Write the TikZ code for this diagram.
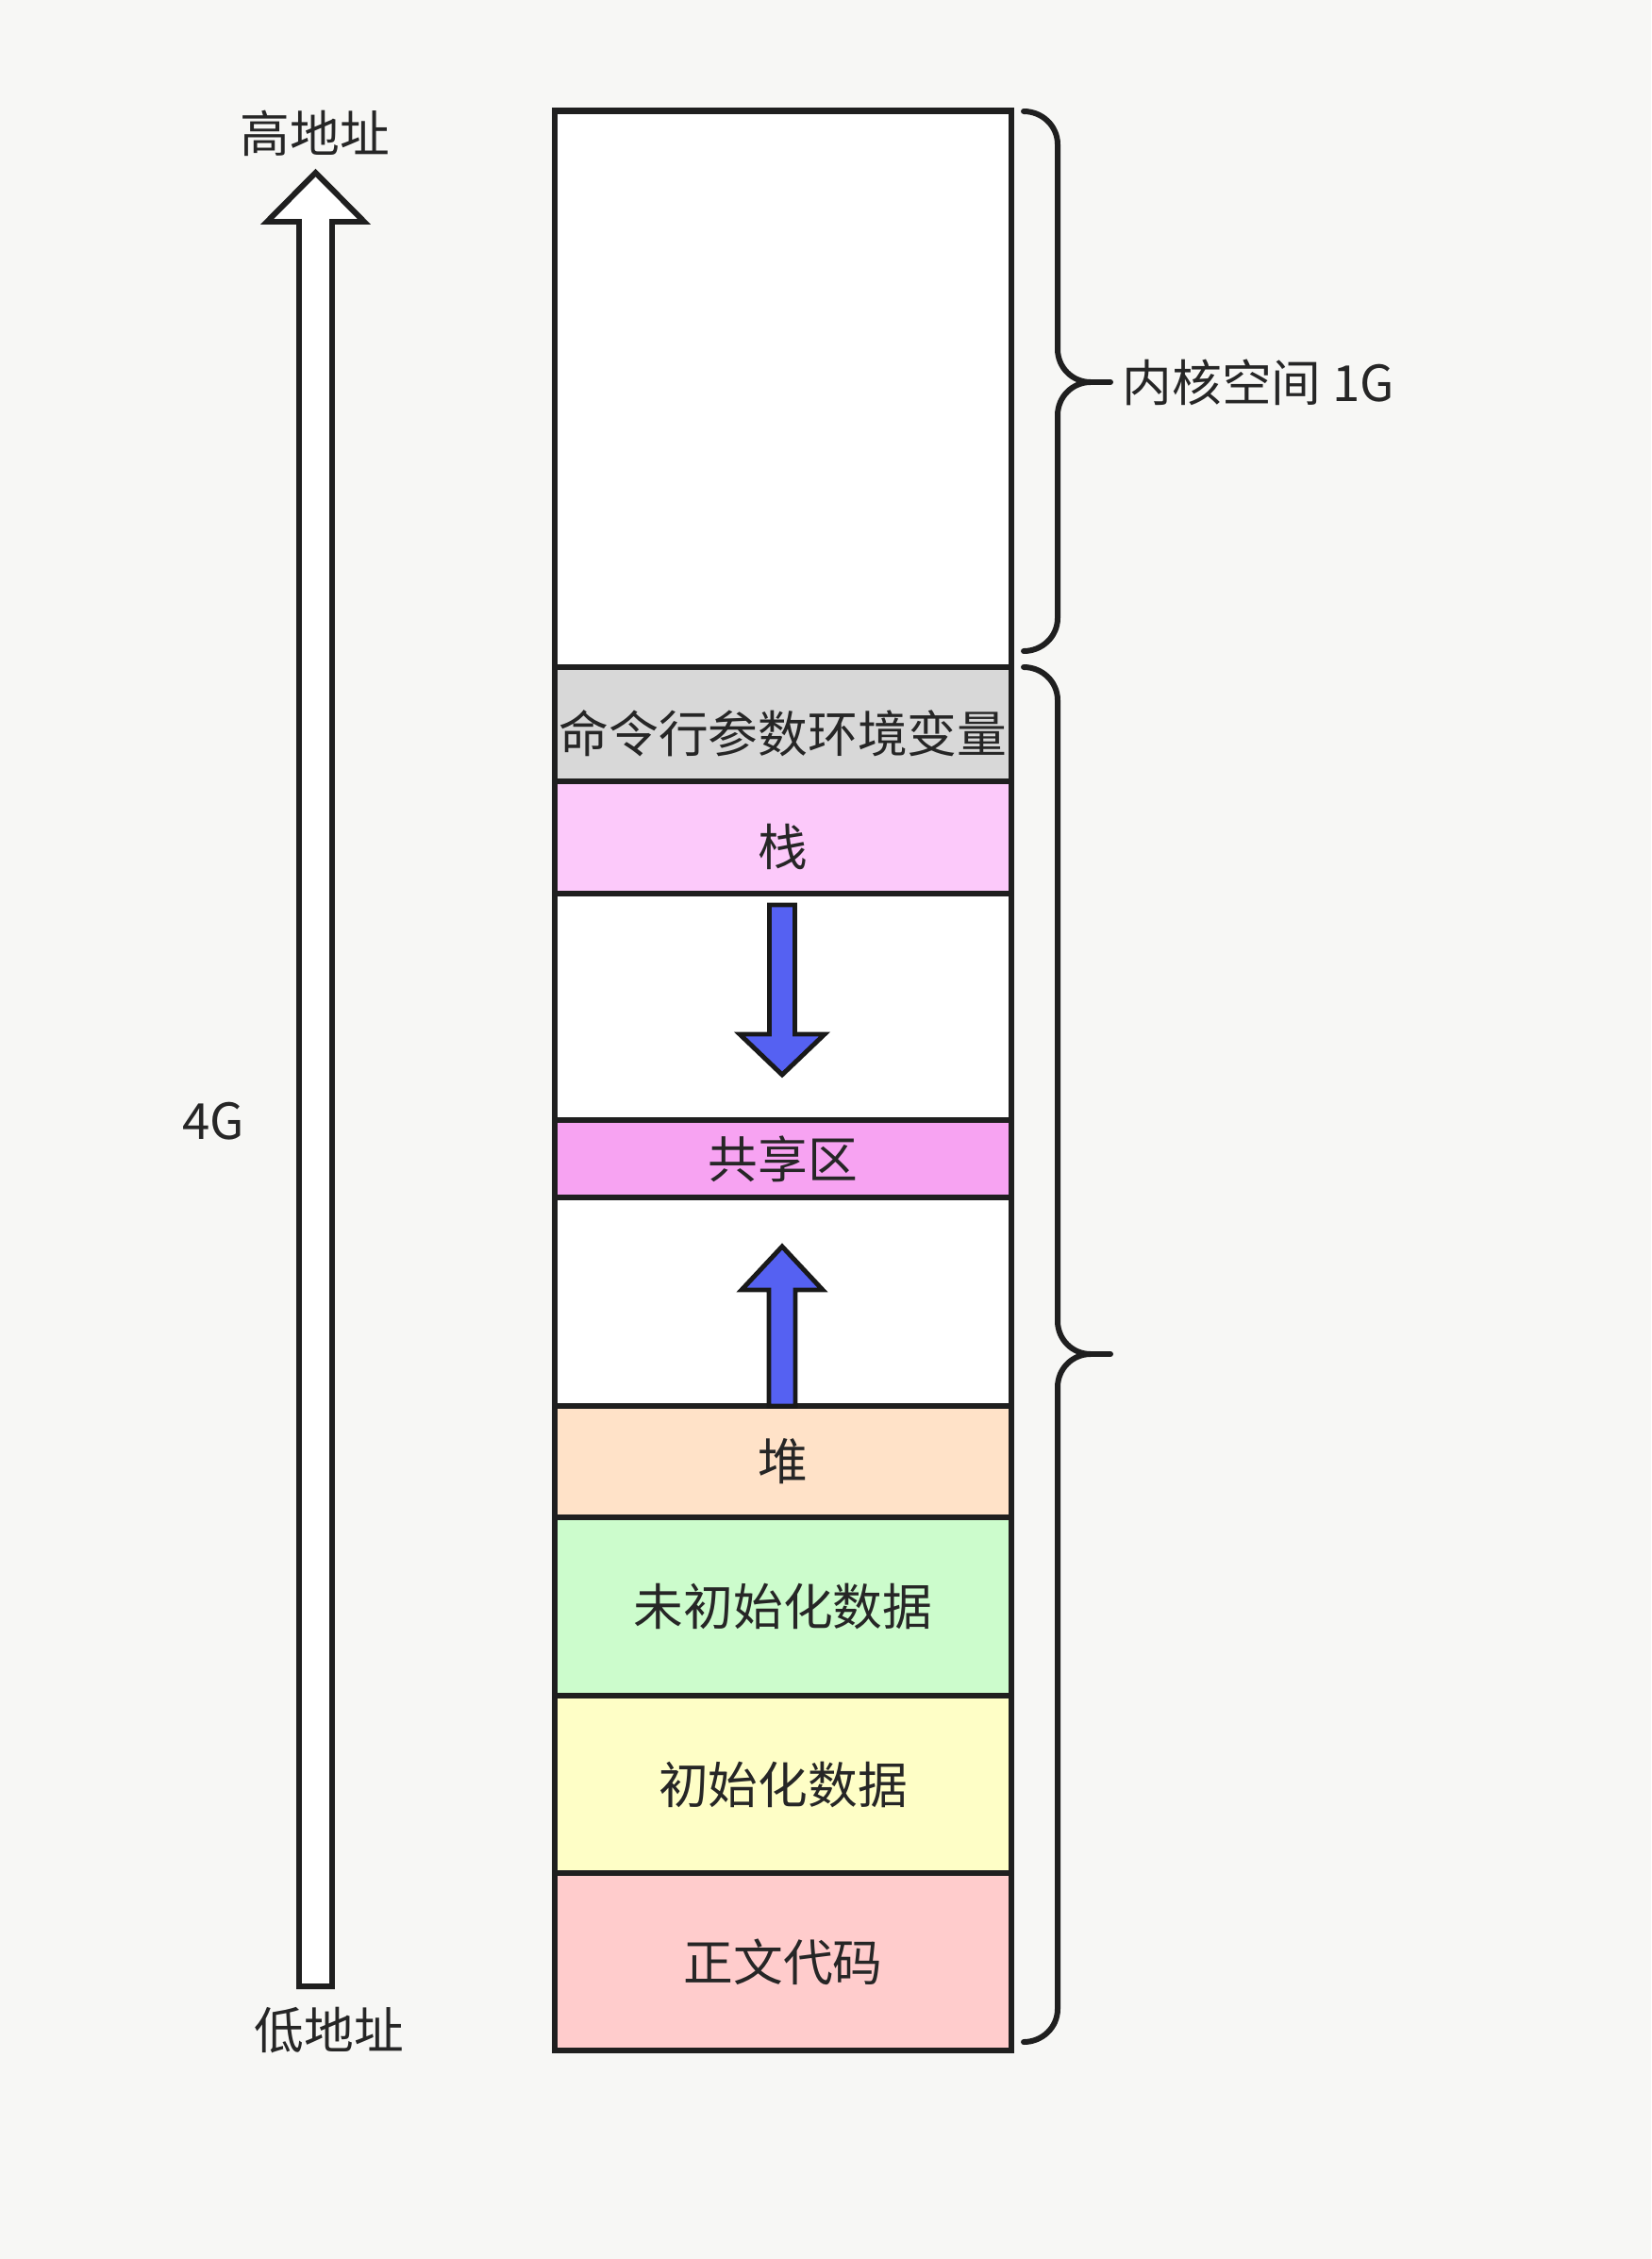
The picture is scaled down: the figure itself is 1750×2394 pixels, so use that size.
\documentclass[tikz,border=0pt]{standalone}
\usepackage{fontspec}
\setmainfont{Noto Sans CJK SC}
\definecolor{bgcol}{RGB}{247,247,245}
\definecolor{argcol}{RGB}{216,216,216}
\definecolor{stackcol}{RGB}{252,201,250}
\definecolor{sharecol}{RGB}{247,163,242}
\definecolor{heapcol}{RGB}{255,226,200}
\definecolor{bsscol}{RGB}{204,252,204}
\definecolor{datacol}{RGB}{254,254,198}
\definecolor{textcol}{RGB}{255,204,204}
\definecolor{growblue}{RGB}{85,97,242}

\begin{document}
\begin{tikzpicture}[x=0.01cm,y=-0.01cm,
  seg/.style={draw=black!88,line width=1.8pt,minimum width=4.84cm,inner sep=0pt,
    outer sep=0pt,font=\fontsize{15}{18}\selectfont,text=black!85},
  lbl/.style={font=\fontsize{15}{18}\selectfont,text=black!85,inner sep=0pt},
  brace/.style={draw=black!88,line width=1.7pt,line cap=round},
  growarrow/.style={draw=black!90,line width=1.4pt,fill=growblue}]
  \useasboundingbox (0,0) rectangle (1750,2394);
  \fill[bgcol] (0,0) rectangle (1750,2394);

  % memory layout
  \node[seg,fill=white,minimum height=5.894cm] (kernel) at (830,412.3) {};
  \node[seg,fill=argcol,minimum height=1.21cm] (args) at (830,767.5) {};
  \node[seg,fill=stackcol,minimum height=1.19cm] (stack) at (830,887.5) {};
  \node[seg,fill=white,minimum height=2.40cm] (gap1) at (830,1067) {};
  \node[seg,fill=sharecol,minimum height=0.82cm] (shared) at (830,1228) {共享区};
  \node[seg,fill=white,minimum height=2.21cm] (gap2) at (830,1379.5) {};
  \node[seg,fill=heapcol,minimum height=1.18cm] (heap) at (830,1549) {堆};
  \node[seg,fill=bsscol,minimum height=1.89cm] (bss) at (830,1702.5) {未初始化数据};
  \node[seg,fill=datacol,minimum height=1.88cm] (data) at (830,1891) {初始化数据};
  \node[seg,fill=textcol,minimum height=1.88cm] (text) at (830,2079) {正文代码};
  \node[lbl] (argstext) at ([yshift=-0.1cm]args.center) {命令行参数环境变量};
  \node[lbl] (stacktext) at ([yshift=-0.1cm]stack.center) {栈};

  % growth directions
  \draw[growarrow] (815.5,959) -- (842.5,959) -- (842.5,1096) -- (874,1096) -- (829,1139)
    -- (784,1096) -- (815.5,1096) -- cycle;
  \draw[growarrow] (815,1490) -- (815,1367) -- (786,1367) -- (829,1321) -- (872,1367)
    -- (843,1367) -- (843,1490) -- cycle;

  % address arrow
  \draw[draw=black!88,fill=white,line width=1.7pt] (317,2105) -- (317,235) -- (283,235)
    -- (334.5,183) -- (386,235) -- (352,235) -- (352,2105) -- cycle;
  \node[lbl] (high) at (334,141) {高地址};
  \node[lbl] (low) at (349,2152) {低地址};
  \node[lbl] (size) at (226,1188) {4G};

  % braces
  \coordinate (ktip) at (1177,405);
  \coordinate (utip) at (1177,1435);
  \draw[brace] (1085,118) to[out=0,in=90] (1121,153) -- (1121,370)
    to[out=-90,in=180] (1156,405) to[out=180,in=90] (1121,440) -- (1121,655)
    to[out=-90,in=0] (1085,690);
  \draw[brace] (1156,405) -- (ktip);
  \draw[brace] (1085,707) to[out=0,in=90] (1121,742) -- (1121,1400)
    to[out=-90,in=180] (1156,1435) to[out=180,in=90] (1121,1470) -- (1121,2129)
    to[out=-90,in=0] (1085,2164);
  \draw[brace] (1156,1435) -- (utip);
  \node[lbl,anchor=west] (klabel) at (1189,405) {内核空间 1G};
\end{tikzpicture}
\end{document}
